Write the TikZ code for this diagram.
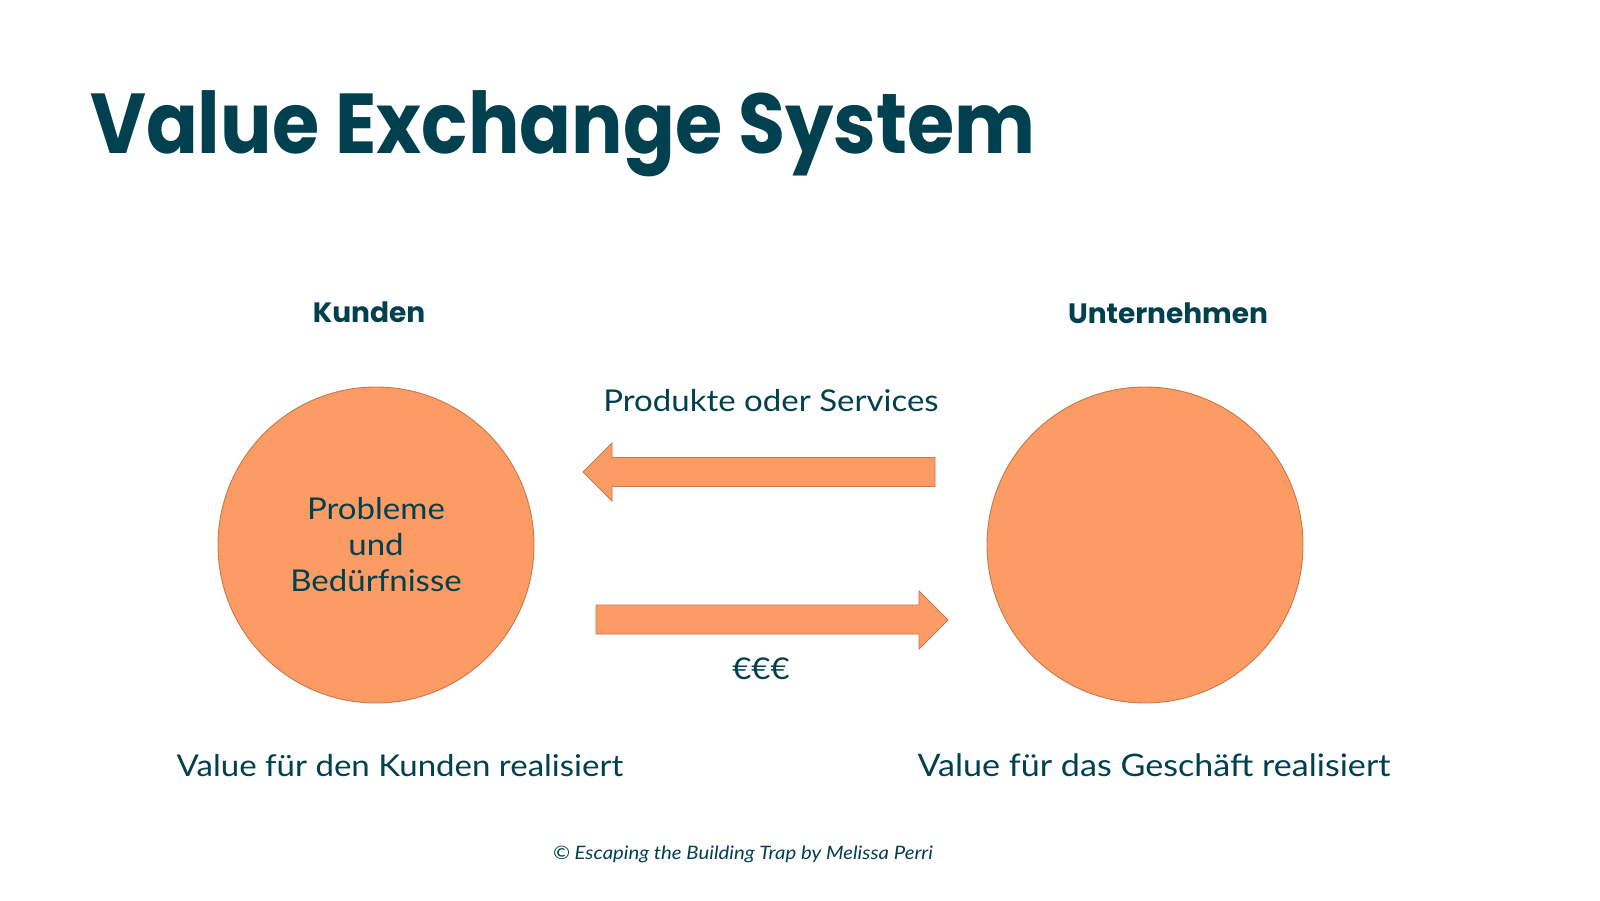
\documentclass[tikz,border=0pt]{standalone}
\usepackage{fontspec}
\setmainfont[FakeStretch=1.1]{Lato}
\newfontfamily\headfont[FakeStretch=0.9]{Poppins}
\newfontfamily\kopffont{Poppins}
\definecolor{petrol}{HTML}{00404F}
\definecolor{apricot}{HTML}{FC9B64}
\definecolor{rust}{HTML}{C7784A}
\def\body{\fontsize{30}{36}\selectfont}

\begin{document}
\begin{tikzpicture}[x=1pt, y=-1pt, every node/.style={text=petrol, inner sep=0pt},
	blob/.style={circle, minimum size=316pt, fill=apricot, draw=rust, line width=0.9pt},
	pfeil/.style={fill=apricot, draw=rust, line width=0.9pt, line join=miter}]
			%%%%% START %%%%%
			
			\useasboundingbox[fill=white] (0, 0) rectangle (1600, 900);
			
			\node[anchor=base west, font=\headfont\bfseries\fontsize{85}{85}\selectfont] (titel) at (90, 153) {Value Exchange System};
			
			\node[anchor=base, font=\kopffont\bfseries\fontsize{28}{28}\selectfont] (kundenkopf) at (369, 322) {Kunden};
			\node[anchor=base, font=\kopffont\bfseries\fontsize{28}{28}\selectfont] (firmenkopf) at (1168, 323) {Unternehmen};
			
			\node[blob] (kunde) at (376, 545) {};
			\node[blob] (firma) at (1145, 545) {};
			\node[align=center, font=\body] (bedarf) at (376, 545) {Probleme\\und\\Bedürfnisse};
			
			% Produkte nach links
			\draw[pfeil] (583, 472) -- (612, 443) -- (612, 457.5) -- (935, 457.5) -- (935, 486.5) -- (612, 486.5) -- (612, 501) -- cycle;
			\node[anchor=base, font=\body] (produkte) at (771, 411) {Produkte oder Services};
			
			% Geld nach rechts
			\draw[pfeil] (596, 605) -- (919, 605) -- (919, 591) -- (948, 620) -- (919, 649) -- (919, 634) -- (596, 634) -- cycle;
			\node[anchor=base, font=\body] (geld) at (761, 679) {€€€};
			
			\node[anchor=base, font=\body] (kundenwert) at (400, 776) {Value für den Kunden realisiert};
			\node[anchor=base, font=\body\fontsize{31}{36}\selectfont] (firmenwert) at (1154, 776) {Value für das Geschäft realisiert};
			
			\node[anchor=base, font=\itshape\fontsize{18.5}{18.5}\selectfont] (quelle) at (743, 859) {© Escaping the Building Trap by Melissa Perri};
			
			%%%%% END %%%%%
		\end{tikzpicture}
\end{document}
